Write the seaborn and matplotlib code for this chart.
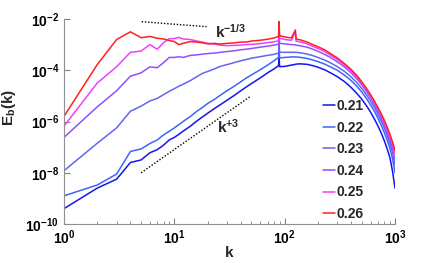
import matplotlib
matplotlib.use('Agg')
import matplotlib.pyplot as plt # отрисовка
import matplotlib.ticker as mticker
import numpy as np
import pandas as pd
import seaborn as sns

# волновые числа (общая сетка для всех кривых)
k_vals = [1, 2, 3, 4, 5, 6, 7, 8, 9, 10, 11, 12, 14, 16, 18, 20, 23, 26, 30, 35,
          40, 45, 50, 60, 70, 80, 88, 89, 90, 100, 115, 125, 127, 140, 160, 180,
          200, 230, 260, 300, 350, 400, 450, 500, 550, 600, 650, 700, 750, 800,
          850, 900, 950, 1000]

# log10(E_b) для каждого значения параметра
log_e_021 = [-9.40, -8.60, -8.25, -7.60, -7.50, -7.22, -7.10, -6.92, -6.72, -6.62,
             -6.50, -6.38, -6.18, -5.98, -5.82, -5.68, -5.50, -5.35, -5.17, -4.98,
             -4.80, -4.65, -4.52, -4.30, -4.10, -3.95, -3.82, -3.50, -3.86, -3.85,
             -3.80, -3.77, -3.76, -3.75, -3.77, -3.82, -3.88, -3.98, -4.10, -4.25,
             -4.45, -4.67, -4.90, -5.13, -5.38, -5.63, -5.90, -6.17, -6.45, -6.75,
             -7.07, -7.42, -7.95, -8.60]
log_e_022 = [-8.90, -8.48, -8.05, -7.17, -7.07, -6.86, -6.72, -6.52, -6.38, -6.25,
             -6.12, -6.00, -5.80, -5.60, -5.45, -5.30, -5.14, -4.98, -4.80, -4.62,
             -4.45, -4.30, -4.18, -3.98, -3.80, -3.63, -3.50, -3.20, -3.52, -3.50,
             -3.48, -3.48, -3.48, -3.50, -3.54, -3.60, -3.66, -3.76, -3.87, -4.00,
             -4.20, -4.40, -4.62, -4.85, -5.10, -5.35, -5.60, -5.87, -6.15, -6.43,
             -6.73, -7.05, -7.45, -8.00]
log_e_023 = [-7.92, -6.85, -6.25, -5.60, -5.40, -5.20, -5.10, -4.95, -4.82, -4.72,
             -4.62, -4.55, -4.40, -4.25, -4.12, -4.05, -3.95, -3.85, -3.78, -3.70,
             -3.63, -3.58, -3.53, -3.47, -3.42, -3.38, -3.33, -2.95, -3.30, -3.30,
             -3.30, -3.30, -3.30, -3.32, -3.37, -3.43, -3.50, -3.60, -3.71, -3.86,
             -4.05, -4.26, -4.48, -4.71, -4.95, -5.20, -5.45, -5.72, -5.98, -6.25,
             -6.55, -6.86, -7.20, -7.70]
log_e_024 = [-6.62, -5.43, -4.80, -4.23, -4.10, -3.87, -3.90, -3.70, -3.50, -3.50,
             -3.47, -3.50, -3.42, -3.40, -3.37, -3.35, -3.33, -3.30, -3.27, -3.24,
             -3.20, -3.18, -3.15, -3.10, -3.06, -3.02, -2.98, -2.70, -2.95, -2.97,
             -3.00, -3.01, -3.02, -3.05, -3.10, -3.18, -3.26, -3.38, -3.50, -3.67,
             -3.88, -4.10, -4.33, -4.57, -4.82, -5.07, -5.33, -5.60, -5.86, -6.13,
             -6.42, -6.72, -7.05, -7.50]
log_e_025 = [-6.18, -4.50, -3.86, -3.30, -3.25, -3.00, -3.18, -2.92, -2.77, -2.76,
             -2.72, -2.78, -2.80, -2.86, -2.90, -2.95, -2.98, -3.02, -3.04, -3.03,
             -3.02, -3.00, -2.99, -2.96, -2.92, -2.89, -2.85, -2.45, -2.75, -2.80,
             -2.83, -2.50, -2.86, -2.90, -2.97, -3.07, -3.15, -3.27, -3.41, -3.58,
             -3.80, -4.02, -4.25, -4.50, -4.75, -5.00, -5.25, -5.50, -5.76, -6.02,
             -6.30, -6.58, -6.90, -7.25]
log_e_026 = [-5.80, -3.78, -2.80, -2.50, -2.73, -2.68, -2.75, -2.78, -2.84, -2.88,
             -3.00, -2.95, -2.88, -2.90, -2.93, -2.97, -2.95, -2.98, -2.95, -2.93,
             -2.90, -2.90, -2.86, -2.83, -2.79, -2.74, -2.68, -2.10, -2.65, -2.70,
             -2.74, -2.43, -2.78, -2.82, -2.90, -3.00, -3.08, -3.20, -3.35, -3.52,
             -3.75, -3.97, -4.20, -4.45, -4.70, -4.95, -5.20, -5.45, -5.70, -5.95,
             -6.22, -6.50, -6.80, -7.13]

labels = ['0.21', '0.22', '0.23', '0.24', '0.25', '0.26']
colors = ['#1414f0', '#3c64ff', '#6464f4', '#9050ff', '#f040ff', '#ff2020']

# направляющие степенные законы
guide_m13_k = [5.06, 19.6]
guide_m13_e = [10 ** -2.105, 10 ** -2.30]
guide_p3_k = [5.0, 48.5]
guide_p3_e = [1e-8, 10 ** -5.03]

series = [log_e_021, log_e_022, log_e_023, log_e_024, log_e_025, log_e_026]
df = pd.concat([pd.DataFrame({'k': k_vals, 'E': 10.0 ** np.array(s), 'mu': lab})
                for s, lab in zip(series, labels)], ignore_index=True)

sns.set_style('ticks')
plt.rcParams['font.family'] = ['Liberation Sans', 'DejaVu Sans']
plt.rcParams['font.weight'] = 'bold'
plt.rcParams['mathtext.fontset'] = 'custom'
plt.rcParams['mathtext.rm'] = 'Liberation Sans:bold'
plt.rcParams['mathtext.bf'] = 'Liberation Sans:bold'
plt.rcParams['mathtext.it'] = 'Liberation Sans:bold'
plt.rcParams['mathtext.default'] = 'bf'

fig = plt.figure(figsize=(4.36, 2.63), dpi=100)
ax = fig.add_axes([64 / 436, 1 - 224 / 263, (395 - 64) / 436, (224 - 19) / 263])

sns.lineplot(data=df, x='k', y='E', hue='mu', palette=colors, estimator=None,
             sort=False, linewidth=1.1, ax=ax)

ax.plot(guide_m13_k, guide_m13_e, color='black', linestyle=(0, (1, 1.3)), linewidth=1)
ax.plot(guide_p3_k, guide_p3_e, color='black', linestyle=(0, (1, 1.3)), linewidth=1)
ax.text(23.4, 10 ** -2.5, r'$k^{-1/3}$', fontsize=11, va='center', ha='left')
ax.text(24.5, 10 ** -6.2, r'$k^{+3}$', fontsize=11, va='center', ha='left')

ax.set_xscale('log')
ax.set_yscale('log')
ax.set_xlim(1, 1000)
ax.set_ylim(1e-10, 1e-2)
ax.yaxis.set_major_locator(mticker.FixedLocator([1e-10, 1e-8, 1e-6, 1e-4, 1e-2]))
ax.yaxis.set_minor_locator(mticker.NullLocator())
ax.tick_params(which='both', direction='in', colors='#808080', labelcolor='black',
               labelsize=10)
ax.tick_params(which='major', length=4)
ax.tick_params(which='minor', length=2)

for side in ['top', 'right']:
    ax.spines[side].set_visible(False)
for side in ['left', 'bottom']:
    ax.spines[side].set_color('#909090')
    ax.spines[side].set_linewidth(0.8)

ax.set_xlabel('k', fontsize=11, fontweight='bold')
ax.set_ylabel(r'$E_b(k)$', fontsize=11)
ax.xaxis.set_label_coords(0.5, -0.105)
ax.yaxis.set_label_coords(-0.138, 0.57)

leg = ax.legend(loc='upper left', bbox_to_anchor=(316 / 436, 1 - 92 / 263),
                bbox_transform=fig.transFigure, frameon=False, fontsize=10,
                handlelength=0.9, handletextpad=0.1, labelspacing=0.55,
                borderpad=0, title=None)
for t in leg.get_texts():
    t.set_fontweight('bold')

fig.savefig('out.png', dpi=100)
